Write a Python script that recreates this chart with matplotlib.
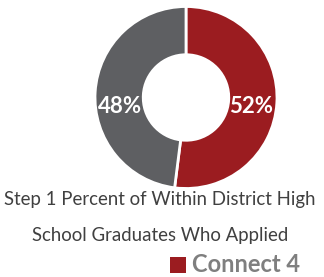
import matplotlib
matplotlib.use("Agg")
import matplotlib.pyplot as plt
from matplotlib.patches import Rectangle

labels = ["Connect 4", "Other"]
values = [52, 48]
pct_labels = ["52%", "48%"]
colors = ["#9B1C20", "#5E5F62"]
title_lines = ["Step 1 Percent of Within District High", "School Graduates Who Applied"]
legend_label = "Connect 4"

plt.rcParams['font.family'] = ['Lato', 'DejaVu Sans']

W, H = 324, 277
fig = plt.figure(figsize=(W/100, H/100), dpi=100)

cx, cy, r = 186, 97.5, 91
ax = fig.add_axes([(cx - r)/W, (H - cy - r)/H, 2*r/W, 2*r/H])
wedges, _ = ax.pie(values, colors=colors, startangle=90, counterclock=False,
                   radius=1, wedgeprops=dict(width=0.53, edgecolor="white", linewidth=2))
ax.set_xlim(-1, 1)
ax.set_ylim(-1, 1)
ax.set_aspect("equal")
ax.axis("off")

ax.text(0.72, -0.1, pct_labels[0], color="white", fontsize=16, fontweight="bold",
        ha="center", va="center")
ax.text(-0.73, -0.1, pct_labels[1], color="white", fontsize=16, fontweight="bold",
        ha="center", va="center")

fig.text(160/W, 1 - 200/H, title_lines[0], ha="center", va="center", fontsize=13.4, color="#404040")
fig.text(160/W, 1 - 235/H, title_lines[1], ha="center", va="center", fontsize=13.4, color="#404040")

fig.patches.append(Rectangle((170/W, 1 - 273/H), 16/W, 16/H, transform=fig.transFigure,
                             facecolor=colors[0], edgecolor="none"))
fig.text(192/W, 1 - 265/H, legend_label, ha="left", va="center", fontsize=17,
         fontweight="bold", color="#7F7F7F")

fig.savefig("out.png", dpi=100)
